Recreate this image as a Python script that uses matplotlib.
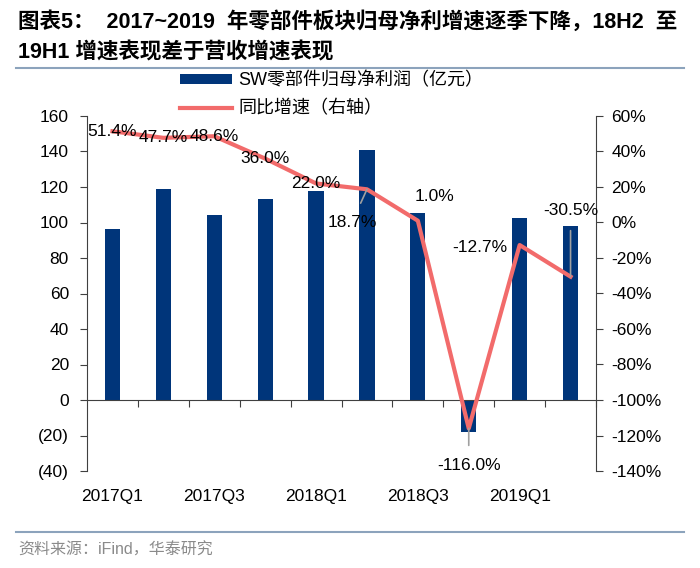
import matplotlib
matplotlib.use('Agg')
import matplotlib.pyplot as plt
from matplotlib.lines import Line2D
from matplotlib.ticker import FuncFormatter, MultipleLocator
import numpy as np

plt.rcParams['font.family'] = ['Liberation Sans', 'Noto Sans CJK SC']

quarters = ['2017Q1', '2017Q2', '2017Q3', '2017Q4', '2018Q1', '2018Q2',
            '2018Q3', '2018Q4', '2019Q1', '2019Q2']
profit = [96.5, 119, 104.5, 113.3, 118, 141, 105.5, -18.3, 102.8, 97.8]
growth = [51.4, 47.7, 48.6, 36.0, 22.0, 18.7, 1.0, -116.0, -12.7, -30.5]
growth_labels = ['51.4%', '47.7%', '48.6%', '36.0%', '22.0%', '18.7%',
                 '1.0%', '-116.0%', '-12.7%', '-30.5%']

bar_color = '#00357A'
line_color = '#F26B6B'
rule_color = '#8CA3BC'

fig = plt.figure(figsize=(7, 5.68), dpi=100)
ax = fig.add_axes([87/700, 1-471/568, (596-87)/700, (471-116)/568])
x = np.arange(len(quarters))

ax.bar(x, profit, width=0.3, color=bar_color, zorder=2, label='SW零部件归母净利润（亿元）')
ax.set_xlim(-0.5, len(quarters)-0.5)
ax.set_ylim(-40, 160)
ax.yaxis.set_major_locator(MultipleLocator(20))
ax.yaxis.set_major_formatter(FuncFormatter(lambda v, p: f'({abs(int(v))})' if v < 0 else f'{int(v)}'))
ax.spines['top'].set_visible(False)
ax.spines['right'].set_visible(False)
ax.spines['bottom'].set_position(('data', 0))
ax.spines['bottom'].set_color('#404040')
ax.spines['left'].set_color('#404040')
ax.set_xticks(np.arange(0.5, len(quarters), 1))
ax.set_xticklabels([])
ax.tick_params(axis='x', direction='out', length=5, color='#404040')
ax.tick_params(axis='y', direction='out', length=5, color='#404040', labelsize=12.5, pad=8)
for i in range(0, len(quarters), 2):
    ax.text(x[i], -26/355, quarters[i], transform=ax.get_xaxis_transform(),
            ha='center', va='center', fontsize=12.5)

ax2 = ax.twinx()
ax2.plot(x, growth, color=line_color, lw=3, zorder=3, label='同比增速（右轴）')
ax2.set_ylim(-140, 60)
ax2.yaxis.set_major_locator(MultipleLocator(20))
ax2.yaxis.set_major_formatter(FuncFormatter(lambda v, p: f'{int(round(v))}%'))
for s in ['top', 'left', 'bottom']:
    ax2.spines[s].set_visible(False)
ax2.spines['right'].set_color('#404040')
ax2.tick_params(axis='y', direction='out', length=5, color='#404040', labelsize=12.5, pad=6)

# label offsets in pixels (dx, dy)
offsets = [(0, 0), (0, 0), (0, 0), (0, 0), (0, 0), (-15, -33),
           (17, 24), (0, -37), (-40, -2), (0, 66)]
leaders = [False, False, False, False, False, True, False, True, False, True]
for i in range(len(growth)):
    dx, dy = offsets[i]
    if leaders[i]:
        ax2.annotate(growth_labels[i], (x[i], growth[i]), xytext=(dx, dy),
                     textcoords='offset pixels', ha='center', va='center', fontsize=12.5,
                     arrowprops=dict(arrowstyle='-', color='#A0A0A0', lw=1.2,
                                     shrinkA=7, shrinkB=0), zorder=4)
    else:
        ax2.annotate(growth_labels[i], (x[i], growth[i]), xytext=(dx, dy),
                     textcoords='offset pixels', ha='center', va='center', fontsize=12.5,
                     zorder=4)

h1, l1 = ax.get_legend_handles_labels()
h2, l2 = ax2.get_legend_handles_labels()
fig.legend(h1 + h2, l1 + l2, loc='upper left', bbox_to_anchor=(180/700, 1-72/568),
           frameon=False, fontsize=13, handlelength=2.9, handleheight=0.45,
           handletextpad=0.35, labelspacing=0.6, borderpad=0, borderaxespad=0)

fig.text(18/700, 1-22/568, '图表5：  2017~2019  年零部件板块归母净利增速逐季下降，18H2  至',
         fontsize=15.5, fontweight='bold', ha='left', va='center')
fig.text(18/700, 1-53/568, '19H1 增速表现差于营收增速表现',
         fontsize=15.5, fontweight='bold', ha='left', va='center')
fig.add_artist(Line2D([16/700, 684/700], [1-68/568, 1-68/568], color=rule_color, lw=1.5))
fig.add_artist(Line2D([16/700, 684/700], [1-532/568, 1-532/568], color=rule_color, lw=1.5))
fig.text(18/700, 1-550/568, '资料来源：iFind，华泰研究', fontsize=11.5, color='#8A8A8A',
         ha='left', va='center')

fig.savefig('out.png', dpi=100)
